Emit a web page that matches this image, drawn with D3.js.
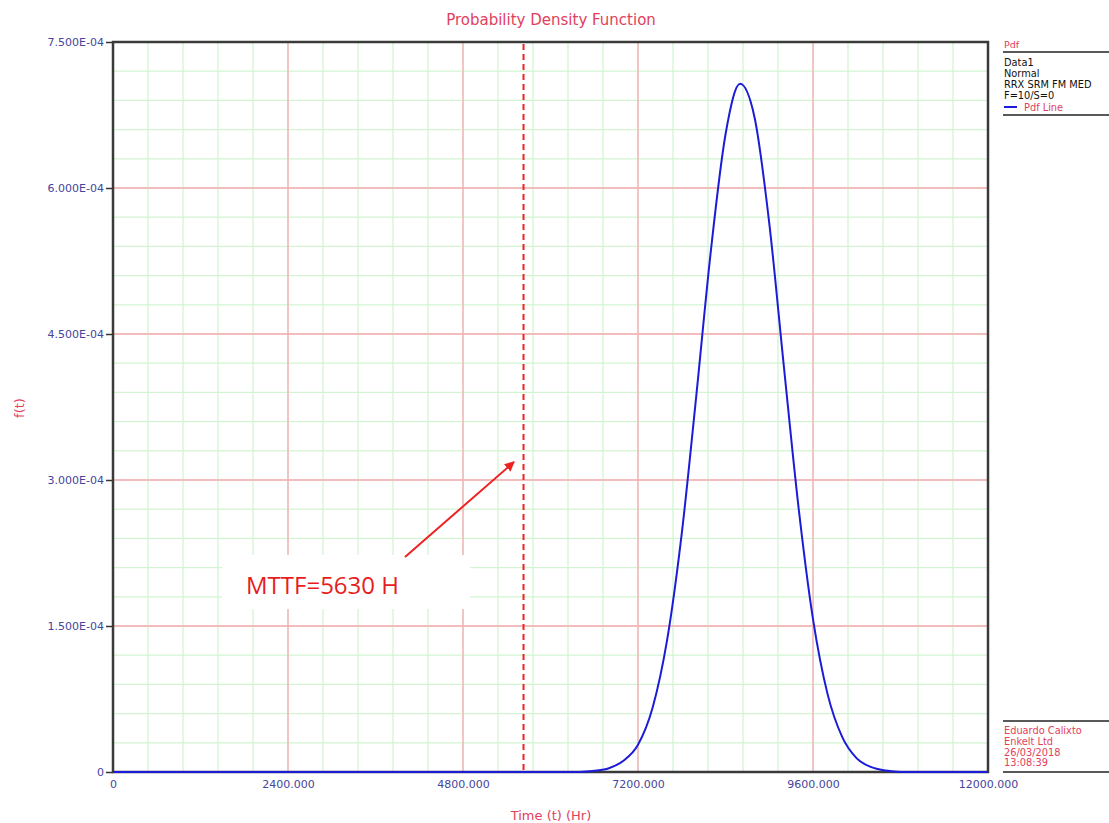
<!DOCTYPE html>
<html>
<head>
<meta charset="utf-8">
<script src="https://cdn.jsdelivr.net/npm/d3@7"></script>
<style>
  html, body { margin: 0; padding: 0; background: #fff; }
  svg { display: block; }
</style>
</head>
<body>
<svg id="chart"></svg>
<script>
// values
const pdfTime = [0, 6400, 6600, 6800, 7000, 7200, 7400, 7600, 7800, 8000, 8200, 8400, 8600,
    8800, 9000, 9200, 9400, 9600, 9800, 10000, 10200, 10400, 10600, 10800, 12000];
const pdfValue = [0, 0, 1.2e-6, 3.9e-6, 1.16e-5, 2.8e-5, 6.6e-5, 1.36e-4, 2.45e-4, 3.87e-4, 5.36e-4, 6.55e-4, 7.07e-4,
    6.72e-4, 5.64e-4, 4.17e-4, 2.73e-4, 1.57e-4, 8.0e-5, 3.6e-5, 1.4e-5, 5e-6, 1.5e-6, 0, 0];

const xTicks = [0, 2400, 4800, 7200, 9600, 12000];
const xTickLabels = ["0", "2400.000", "4800.000", "7200.000", "9600.000", "12000.000"];
const yTicks = [0, 1.5e-4, 3.0e-4, 4.5e-4, 6.0e-4, 7.5e-4];
const yTickLabels = ["0", "1.500E-04", "3.000E-04", "4.500E-04", "6.000E-04", "7.500E-04"];

const mttf = 5630;
const mttfLabel = "MTTF=5630 H";

const legendTitle = "Pdf";
const legendLines = ["Data1", "Normal", "RRX SRM FM MED", "F=10/S=0"];
const legendSeries = "Pdf Line";
const stampLines = ["Eduardo Calixto", "Enkelt Ltd", "26/03/2018", "13:08:39"];

const width = 1109;
const height = 823;
const marginTop = 42;
const marginRight = 121;
const marginBottom = 51;
const marginLeft = 113;

const blue = "#1c1cd8";
const pink = "#e2405c";
const tickColor = "#45459c";

const x = d3.scaleLinear()
    .domain([0, 12000])
    .range([marginLeft, width - marginRight]);

const y = d3.scaleLinear()
    .domain([0, 7.5e-4])
    .range([height - marginBottom, marginTop]);

const svg = d3.select("#chart")
    .attr("width", width)
    .attr("height", height)
    .attr("viewBox", [0, 0, width, height])
    .style("font-family", "'DejaVu Sans', sans-serif");

svg.append("rect").attr("width", width).attr("height", height).attr("fill", "#fff");

// grid: minor green, major red
const xMinor = d3.range(0, 12001, 480);
const yMinor = d3.range(0, 26).map(i => i * 3e-5);

const grid = svg.append("g");
grid.selectAll(".vmin")
    .data(xMinor)
    .join("line")
    .attr("x1", d => x(d)).attr("x2", d => x(d))
    .attr("y1", y(0)).attr("y2", y(7.5e-4))
    .attr("stroke", "#d2f4d2").attr("stroke-width", 1.3);
grid.selectAll(".hmin")
    .data(yMinor)
    .join("line")
    .attr("x1", x(0)).attr("x2", x(12000))
    .attr("y1", d => y(d)).attr("y2", d => y(d))
    .attr("stroke", "#d2f4d2").attr("stroke-width", 1.3);
grid.selectAll(".vmaj")
    .data(xTicks)
    .join("line")
    .attr("x1", d => x(d)).attr("x2", d => x(d))
    .attr("y1", y(0)).attr("y2", y(7.5e-4))
    .attr("stroke", "#f8abb2").attr("stroke-width", 1.3);
grid.selectAll(".hmaj")
    .data(yTicks)
    .join("line")
    .attr("x1", x(0)).attr("x2", x(12000))
    .attr("y1", d => y(d)).attr("y2", d => y(d))
    .attr("stroke", "#f8abb2").attr("stroke-width", 1.3);

// white annotation box hides the grid
svg.append("rect")
    .attr("x", 222).attr("y", 555)
    .attr("width", 248).attr("height", 54)
    .attr("fill", "#fff");

// axes
const gx = svg.append("g")
    .attr("transform", `translate(0,${y(0)})`)
    .call(d3.axisBottom(x).tickValues(xTicks).tickFormat((d, i) => xTickLabels[i]).tickSize(0).tickPadding(8))
    .call(g => g.select(".domain").remove());
gx.selectAll("text")
    .attr("fill", tickColor)
    .style("font-size", "11px")
    .style("font-family", "'DejaVu Sans', sans-serif");

const gy = svg.append("g")
    .attr("transform", `translate(${marginLeft},0)`)
    .call(d3.axisLeft(y).tickValues(yTicks).tickFormat((d, i) => yTickLabels[i]).tickSize(7).tickPadding(2))
    .call(g => g.select(".domain").remove());
gy.selectAll("line").attr("stroke", "#333").attr("stroke-width", 1.5);
gy.selectAll("text")
    .attr("fill", tickColor)
    .style("font-size", "11px")
    .style("font-family", "'DejaVu Sans', sans-serif");

// frame
svg.append("rect")
    .attr("x", x(0)).attr("y", y(7.5e-4))
    .attr("width", x(12000) - x(0))
    .attr("height", y(0) - y(7.5e-4))
    .attr("fill", "none")
    .attr("stroke", "#3a3a3a")
    .attr("stroke-width", 2.5);

// MTTF line
svg.append("line")
    .attr("x1", x(mttf)).attr("x2", x(mttf))
    .attr("y1", y(7.5e-4) + 2).attr("y2", y(0))
    .attr("stroke", "#ee2222")
    .attr("stroke-width", 2)
    .attr("stroke-dasharray", "6,4");

// pdf curve
const line = d3.line()
    .x((d, i) => x(pdfTime[i]))
    .y(d => y(d))
    .curve(d3.curveMonotoneX);

svg.append("path")
    .attr("d", line(pdfValue))
    .attr("fill", "none")
    .attr("stroke", blue)
    .attr("stroke-width", 2);

// annotation
svg.append("defs").append("marker")
    .attr("id", "arrow")
    .attr("viewBox", "0 0 10 10")
    .attr("refX", 9).attr("refY", 5)
    .attr("markerWidth", 5).attr("markerHeight", 5)
    .attr("markerUnits", "strokeWidth")
    .attr("orient", "auto")
    .append("path")
    .attr("d", "M0,0 L10,5 L0,10 Z")
    .attr("fill", "#ee2222");

svg.append("line")
    .attr("x1", 405).attr("y1", 557)
    .attr("x2", 514).attr("y2", 462)
    .attr("stroke", "#ee2222")
    .attr("stroke-width", 2)
    .attr("marker-end", "url(#arrow)");

svg.append("text")
    .attr("x", 246).attr("y", 594)
    .attr("fill", "#e81c1c")
    .style("font-family", "'Open Sans', sans-serif")
    .style("font-size", "24px")
    .text(mttfLabel);

// titles
svg.append("text")
    .attr("x", 551).attr("y", 25)
    .attr("text-anchor", "middle")
    .attr("fill", pink)
    .style("font-size", "15px")
    .text("Probability Density Function");

svg.append("text")
    .attr("x", 551).attr("y", 820)
    .attr("text-anchor", "middle")
    .attr("fill", pink)
    .style("font-size", "13px")
    .text("Time (t) (Hr)");

svg.append("text")
    .attr("transform", "translate(24,408) rotate(-90)")
    .attr("text-anchor", "middle")
    .attr("fill", pink)
    .style("font-size", "13px")
    .text("f(t)");

// legend, top right
const lx = 1004;
svg.append("text")
    .attr("x", lx).attr("y", 48)
    .attr("fill", pink)
    .style("font-size", "9.5px")
    .text(legendTitle);
svg.append("line")
    .attr("x1", 1003).attr("x2", width)
    .attr("y1", 52).attr("y2", 52)
    .attr("stroke", "#222").attr("stroke-width", 1.5);
svg.append("g")
    .selectAll("text")
    .data(legendLines)
    .join("text")
    .attr("x", lx)
    .attr("y", (d, i) => 66 + i * 11)
    .attr("fill", "#111")
    .style("font-size", "9.8px")
    .text(d => d);
svg.append("line")
    .attr("x1", lx).attr("x2", lx + 13)
    .attr("y1", 107).attr("y2", 107)
    .attr("stroke", blue).attr("stroke-width", 2);
svg.append("text")
    .attr("x", lx + 20).attr("y", 111)
    .attr("fill", pink)
    .style("font-size", "9.8px")
    .text(legendSeries);
svg.append("line")
    .attr("x1", 1003).attr("x2", width)
    .attr("y1", 115).attr("y2", 115)
    .attr("stroke", "#222").attr("stroke-width", 1.5);

// stamp, bottom right
svg.append("line")
    .attr("x1", 1003).attr("x2", width)
    .attr("y1", 721).attr("y2", 721)
    .attr("stroke", "#222").attr("stroke-width", 1.5);
svg.append("g")
    .selectAll("text")
    .data(stampLines)
    .join("text")
    .attr("x", lx)
    .attr("y", (d, i) => 734 + i * 10.8)
    .attr("fill", pink)
    .style("font-size", "9.8px")
    .text(d => d);
svg.append("line")
    .attr("x1", 1003).attr("x2", width)
    .attr("y1", 772).attr("y2", 772)
    .attr("stroke", "#222").attr("stroke-width", 1.5);
</script>
</body>
</html>
